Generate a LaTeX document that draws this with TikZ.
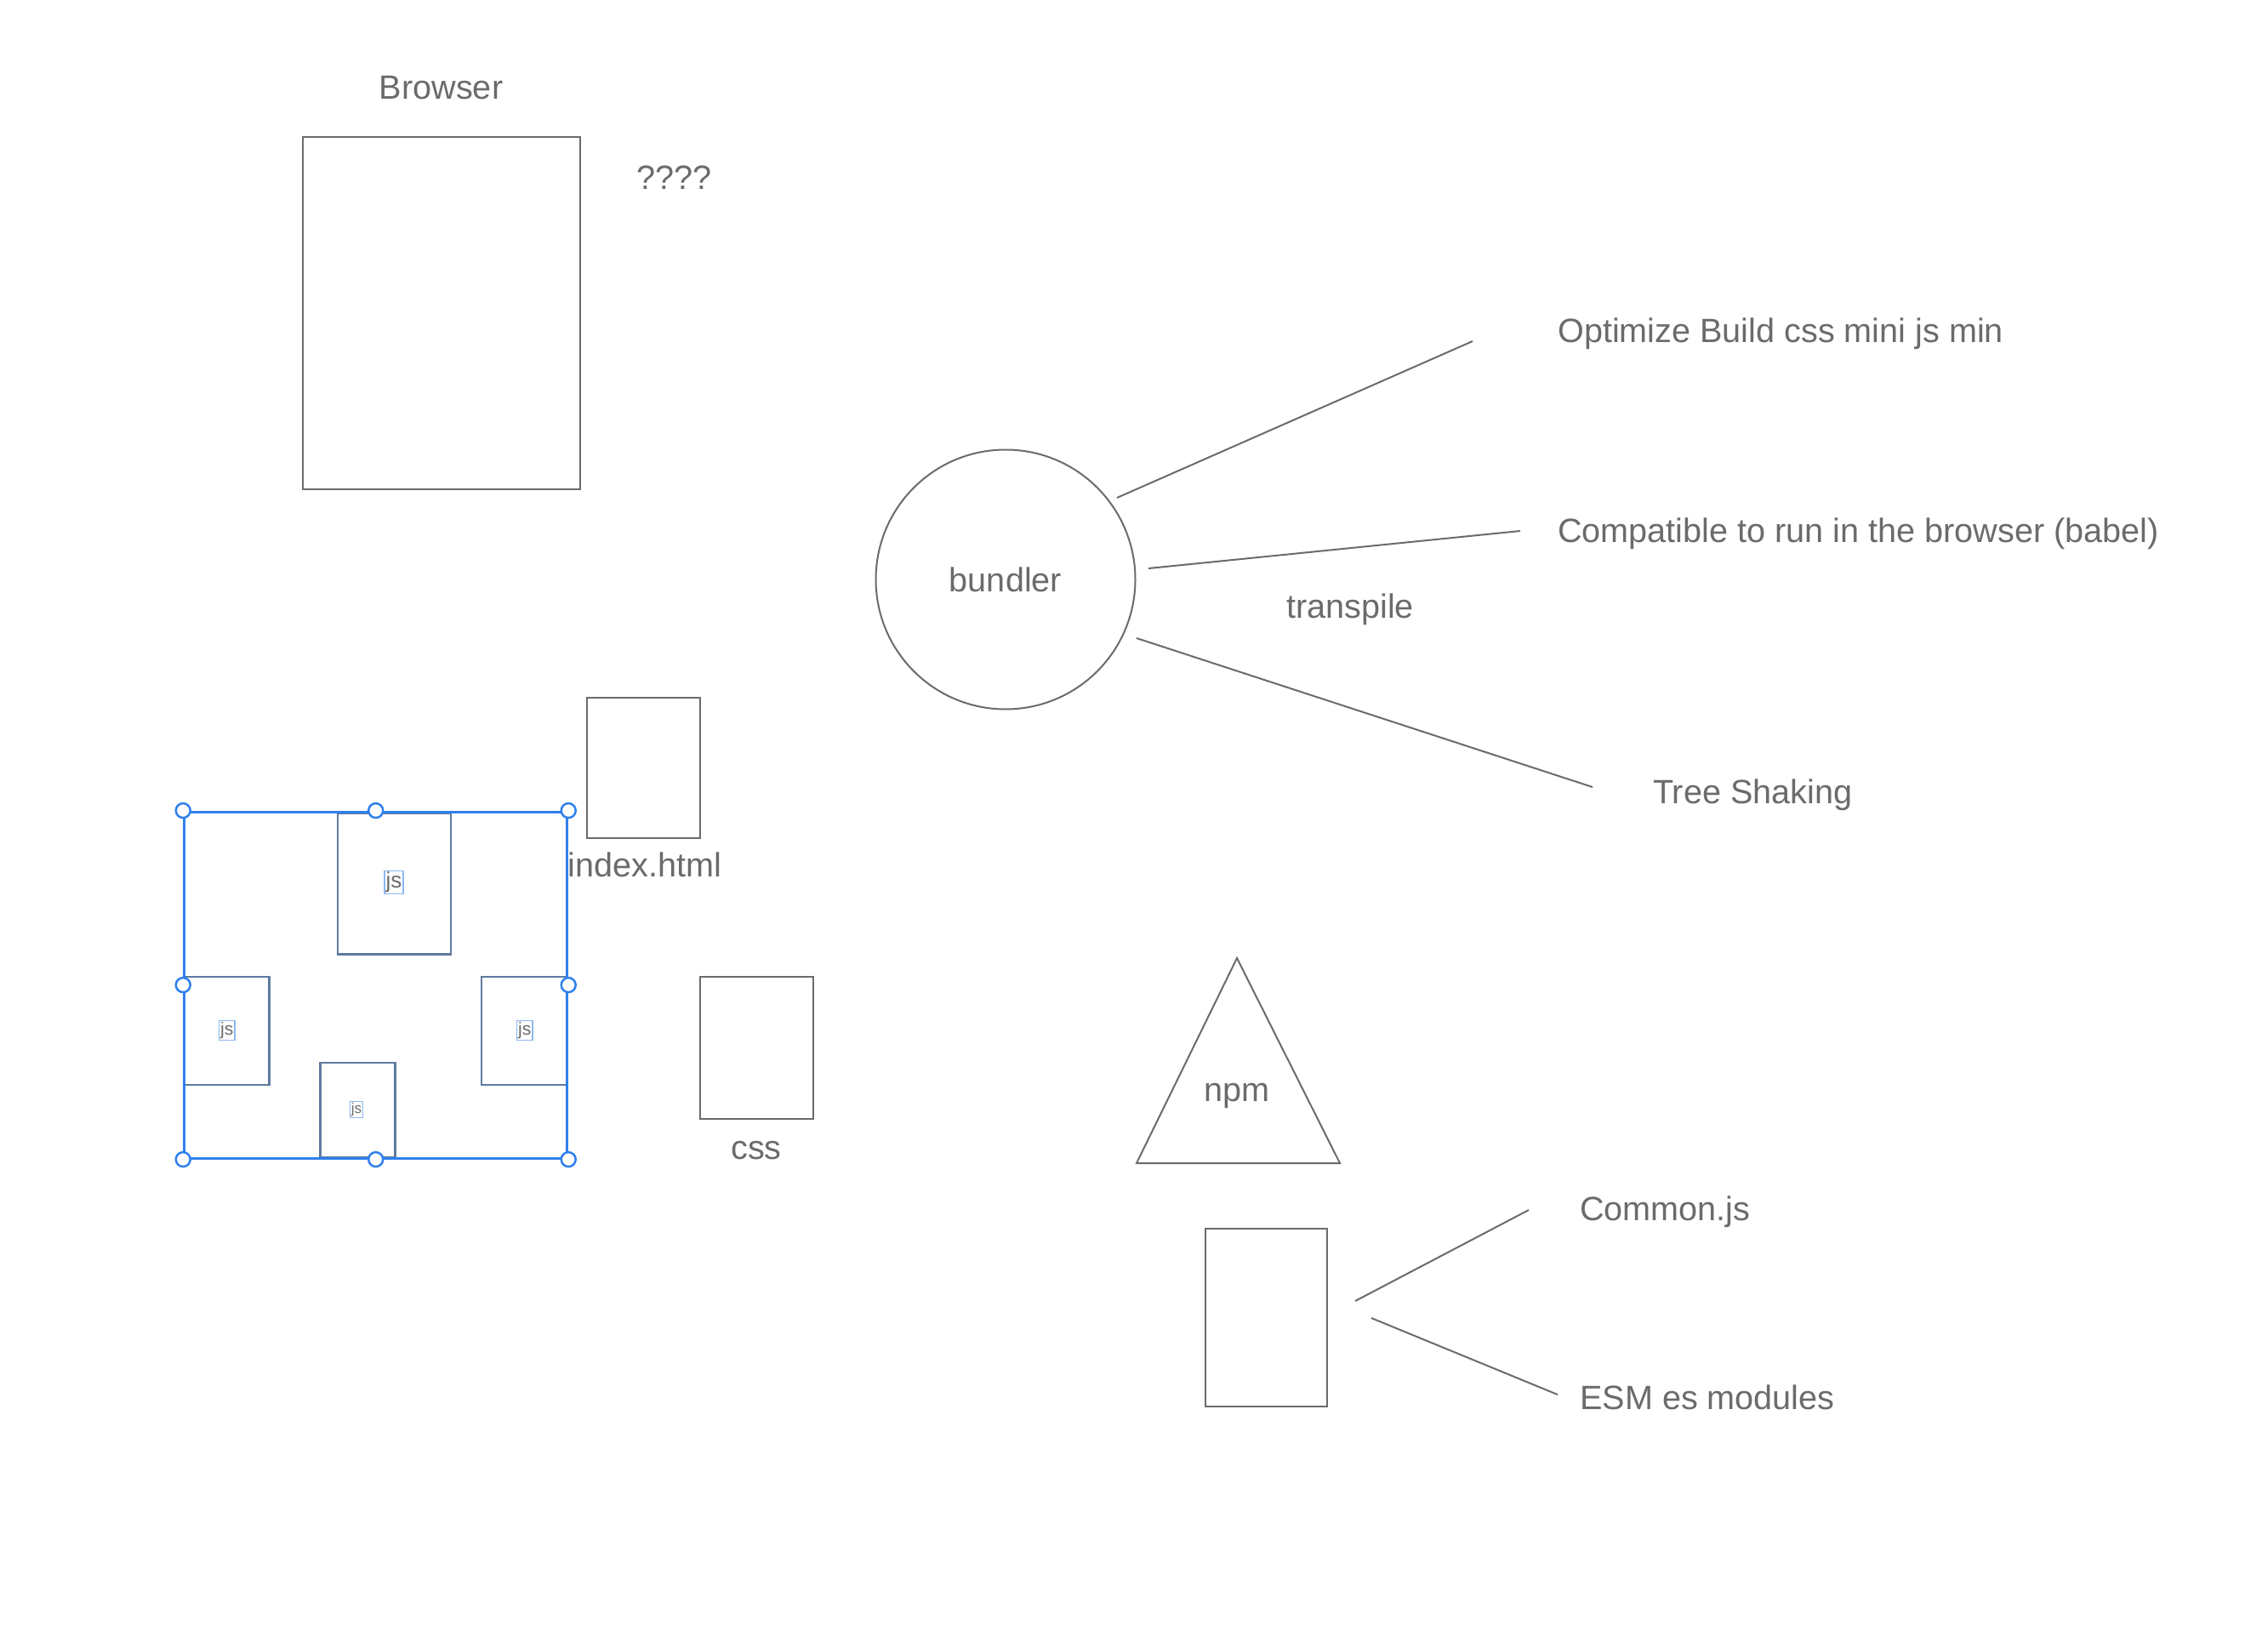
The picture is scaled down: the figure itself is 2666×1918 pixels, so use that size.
\documentclass[tikz,border=0pt]{standalone}
\usepackage{fontspec}
\setmainfont{Liberation Sans}
\definecolor{ink}{HTML}{6B6B6B}
\definecolor{sel}{HTML}{2F80ED}
\definecolor{selt}{HTML}{8CB8F2}
\definecolor{jsedge}{HTML}{5F7A9E}
\tikzset{
  box/.style={draw=ink, line width=2pt, inner sep=0pt, rectangle},
  jsbox/.style={draw=jsedge, line width=2.5pt, inner sep=0pt, rectangle},
  lbl/.style={text=ink, inner sep=0pt, font=\fontsize{39.6}{48}\selectfont},
  jslbl/.style={text=ink, draw=selt, line width=1.5pt, inner sep=1.5pt},
  conn/.style={draw=ink, line width=2pt},
  handle/.style={circle, draw=sel, fill=white, line width=2.5pt, minimum size=17pt, inner sep=0pt},
}
\begin{document}
\begin{tikzpicture}[x=1pt,y=-1pt]
\useasboundingbox[fill=white] (0,0) rectangle (2666,1918);

% Browser
\node[lbl] (browserlbl) at (518.6,103) {Browser};
\node[box, minimum width=326pt, minimum height=413pt] (browser) at (518.6,368) {};
\node[lbl, anchor=west] (q) at (748,209) {????};

% bundler
\node[circle, draw=ink, line width=2pt, minimum size=305pt, inner sep=0pt, lbl] (bundler) at (1182,681) {bundler};
\node[lbl] (transpile) at (1587,716) {transpile};
\node[lbl, anchor=west] (optimize) at (1831,392) {Optimize Build css mini js min};
\node[lbl, anchor=west] (compat) at (1831,627) {Compatible to run in the browser (babel)};
\node[lbl, anchor=west] (tree) at (1943,934) {Tree Shaking};
\coordinate (b1) at (1313,585);
\coordinate (o1) at (1731,401);
\coordinate (b2) at (1350,668);
\coordinate (c2) at (1787,624);
\coordinate (b3) at (1336,750);
\coordinate (t3) at (1872,925);
\draw[conn] (b1) -- (o1);
\draw[conn] (b2) -- (c2);
\draw[conn] (b3) -- (t3);

% index.html and css
\node[box, minimum width=133pt, minimum height=165pt] (index) at (756.7,902) {};
\node[lbl] (indexlbl) at (758,1016) {index.html};
\node[box, minimum width=133pt, minimum height=167pt] (css) at (889.3,1231) {};
\node[lbl] (csslbl) at (889,1352) {css};

% npm
\coordinate (napex) at (1454,1126);
\coordinate (nleft) at (1336,1367);
\coordinate (nright) at (1575,1367);
\draw[conn, line join=miter] (napex) -- (nleft) -- (nright) -- cycle;
\node[lbl] (npm) at (1454,1288) {npm};
\node[box, minimum width=143pt, minimum height=209pt] (modbox) at (1488,1548) {};
\node[lbl, anchor=west] (cjs) at (1857,1424) {Common.js};
\node[lbl, anchor=west] (esm) at (1857,1642) {ESM es modules};
\coordinate (m1) at (1593,1529);
\coordinate (cj1) at (1797,1422);
\coordinate (m2) at (1612,1549);
\coordinate (es2) at (1831,1639);
\draw[conn] (m1) -- (cj1);
\draw[conn] (m2) -- (es2);

% js group (selected)
\node[jsbox, minimum width=133pt, minimum height=166pt] (jstop) at (463.3,1038.3) {};
\node[jsbox, minimum width=100pt, minimum height=127pt] (jsleft) at (266.7,1211.7) {};
\node[jsbox, minimum width=100pt, minimum height=127pt] (jsright) at (616,1211.7) {};
\node[jsbox, minimum width=88pt, minimum height=111pt] (jsbottom) at (420.5,1304.5) {};
\node[jslbl, font=\fontsize{26}{30}\selectfont] (jstoplbl) at (463,1037) {js};
\node[jslbl, font=\fontsize{21}{25}\selectfont] (jsleftlbl) at (266.7,1211) {js};
\node[jslbl, font=\fontsize{21}{25}\selectfont] (jsrightlbl) at (616.7,1211) {js};
\node[jslbl, font=\fontsize{17}{20}\selectfont] (jsbottomlbl) at (419,1304) {js};

\node[draw=sel, line width=3pt, minimum width=450pt, minimum height=407pt, inner sep=0pt] (group) at (441.7,1157.6) {};
\node[handle] (h1) at (group.north west) {};
\node[handle] (h2) at (group.north) {};
\node[handle] (h3) at (group.north east) {};
\node[handle] (h4) at (group.west) {};
\node[handle] (h5) at (group.east) {};
\node[handle] (h6) at (group.south west) {};
\node[handle] (h7) at (group.south) {};
\node[handle] (h8) at (group.south east) {};
\end{tikzpicture}
\end{document}
